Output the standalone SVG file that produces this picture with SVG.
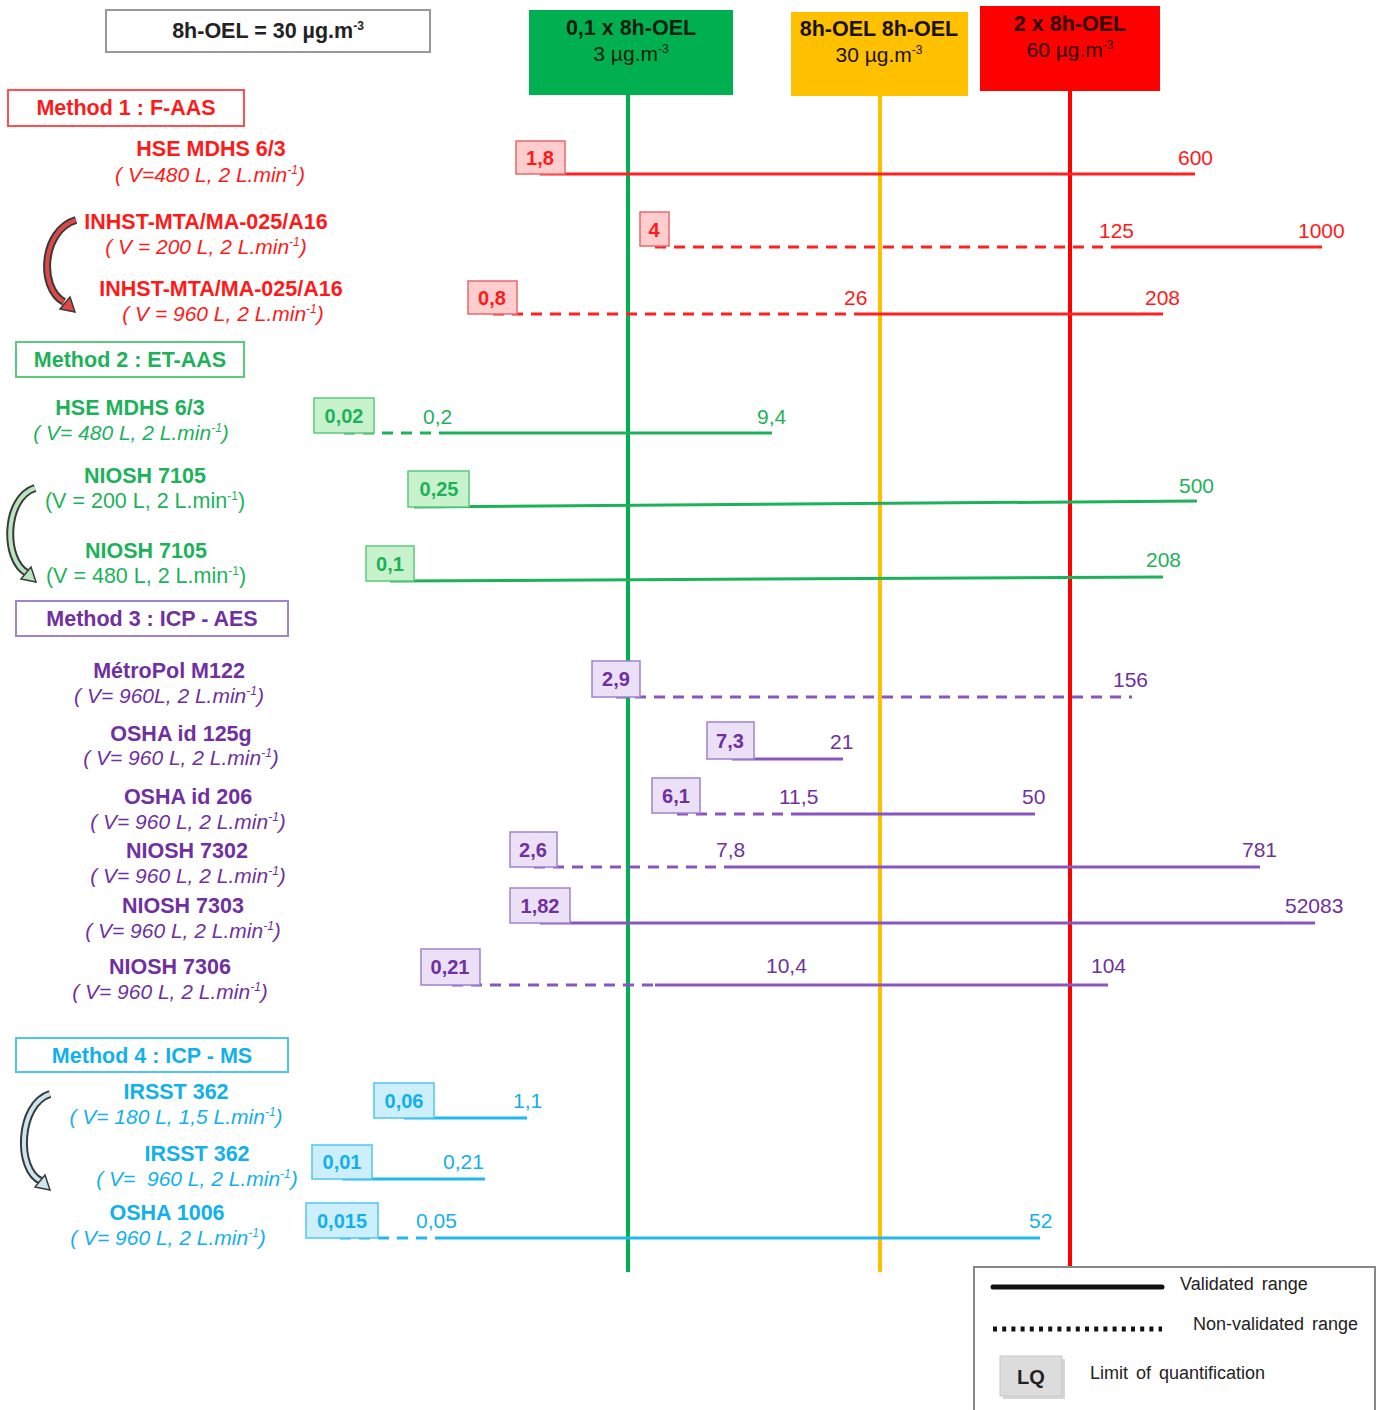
<svg xmlns="http://www.w3.org/2000/svg" width="1380" height="1410" viewBox="0 0 1380 1410">
<style>
text{font-family:"Liberation Sans",Arial,sans-serif}
.t{font-size:21.5px;font-weight:bold;text-anchor:middle}
.s{font-size:21px;font-style:italic;text-anchor:middle}
.sn{font-size:21.5px;text-anchor:middle}
.n{font-size:21px}
.lq{font-size:20px;font-weight:bold;text-anchor:middle}
.r{fill:#FF1a1a}.g{fill:#1DB25A}.p{fill:#7030A0}.c{fill:#12B0EC}
.lr{stroke:#FF2020;stroke-width:3;fill:none}
.lg{stroke:#1DB25A;stroke-width:3;fill:none}
.lp{stroke:#8A55BE;stroke-width:3;fill:none}
.lc{stroke:#22B8EE;stroke-width:3;fill:none}
.d{stroke-dasharray:11 8}
.br{fill:#FFCDCD;stroke:#E86A6A;stroke-width:1.5}
.bg{fill:#C8F2CC;stroke:#5ACB7C;stroke-width:1.5}
.bp{fill:#EBE0F6;stroke:#A183CC;stroke-width:1.5}
.bc{fill:#CDEFFB;stroke:#4FC6F0;stroke-width:1.5}
.h{font-size:21px;text-anchor:middle}
.leg{font-size:18px;fill:#222;word-spacing:3px}
</style>
<rect width="1380" height="1410" fill="#fff"/>

<!-- header -->
<g id="oel">
<rect x="106" y="10" width="324" height="42" fill="#fff" stroke="#999" stroke-width="2"/>
<text x="268" y="38" class="t" font-size="20.5" fill="#222">8h-OEL = 30 µg.m<tspan font-size="12" dy="-8">-3</tspan></text>
</g>

<!-- vertical reference lines -->
<g id="reflines">
<line x1="628" y1="95" x2="628" y2="1272" stroke="#00B050" stroke-width="4"/>
<line x1="880" y1="96" x2="880" y2="1272" stroke="#FFC000" stroke-width="4"/>
<line x1="1070" y1="91" x2="1070" y2="1266" stroke="#FF0000" stroke-width="4"/>
</g>

<g id="hdr-green">
<rect x="529" y="10" width="204" height="85" fill="#00B050"/>
<text x="631" y="35" class="t" fill="#0d1f0d">0,1 x 8h-OEL</text>
<text x="631" y="61" class="h" fill="#0d1f0d">3 µg.m<tspan font-size="12" dy="-8">-3</tspan></text>
</g>
<g id="hdr-yellow">
<rect x="791" y="12" width="177" height="84" fill="#FFC000"/>
<text x="879" y="36" class="t" fill="#1a1200">8h-OEL 8h-OEL</text>
<text x="879" y="62" class="h" fill="#1a1200">30 µg.m<tspan font-size="12" dy="-8">-3</tspan></text>
</g>
<g id="hdr-red">
<rect x="980" y="6" width="180" height="85" fill="#FF0000"/>
<text x="1070" y="31" class="t" fill="#2a0000">2 x 8h-OEL</text>
<text x="1070" y="57" class="h" fill="#2a0000">60 µg.m<tspan font-size="12" dy="-8">-3</tspan></text>
</g>

<!-- method boxes -->
<g id="method1"><rect x="8" y="90" width="236" height="36" fill="#fff" stroke="#FF5050" stroke-width="2"/><text x="126" y="115" class="t r">Method 1 : F-AAS</text></g>
<g id="method2"><rect x="16" y="342" width="228" height="35" fill="#fff" stroke="#5ACB7C" stroke-width="2"/><text x="130" y="367" class="t g">Method 2 : ET-AAS</text></g>
<g id="method3"><rect x="16" y="601" width="272" height="35" fill="#fff" stroke="#A183CC" stroke-width="2"/><text x="152" y="626" class="t p">Method 3 : ICP - AES</text></g>
<g id="method4"><rect x="16" y="1038" width="272" height="34" fill="#fff" stroke="#4FC6F0" stroke-width="2"/><text x="152" y="1063" class="t c">Method 4 : ICP - MS</text></g>

<!-- curved arrows -->
<g id="arrows">
<path d="M76 220 C42 230 38 288 64 302" fill="none" stroke="#3a3a3a" stroke-width="8"/>
<path d="M76 220 C42 230 38 288 64 302" fill="none" stroke="#E04848" stroke-width="4"/>
<polygon points="75,312 60,309 70,297" fill="#E04848" stroke="#3a3a3a" stroke-width="1.5"/>
<path d="M35 488 C4 498 3 560 27 573" fill="none" stroke="#3a3a3a" stroke-width="8"/>
<path d="M35 488 C4 498 3 560 27 573" fill="none" stroke="#B9E5BE" stroke-width="4"/>
<polygon points="36,582 21,579 31,567" fill="#B9E5BE" stroke="#3a3a3a" stroke-width="1.5"/>
<path d="M50 1094 C18 1104 16 1170 41 1181" fill="none" stroke="#3a3a3a" stroke-width="8"/>
<path d="M50 1094 C18 1104 16 1170 41 1181" fill="none" stroke="#CBE6EE" stroke-width="4"/>
<polygon points="50,1190 35,1187 45,1175" fill="#CBE6EE" stroke="#3a3a3a" stroke-width="1.5"/>
</g>

<!-- connectors: ranges -->
<g id="connectors">
<line x1="540" y1="174" x2="1195" y2="174" class="lr"/>
<line x1="655" y1="247" x2="1117" y2="247" class="lr d"/>
<line x1="1117" y1="247" x2="1322" y2="247" class="lr"/>
<line x1="493" y1="314" x2="855" y2="314" class="lr d"/>
<line x1="855" y1="314" x2="1163" y2="314" class="lr"/>

<line x1="344" y1="433" x2="440" y2="433" class="lg d"/>
<line x1="440" y1="433" x2="772" y2="433" class="lg"/>
<line x1="414" y1="507" x2="1197" y2="501" class="lg"/>
<line x1="390" y1="581" x2="1163" y2="577" class="lg"/>

<line x1="616" y1="697" x2="1132" y2="697" class="lp d"/>
<line x1="732" y1="759" x2="843" y2="759" class="lp"/>
<line x1="677" y1="814" x2="800" y2="814" class="lp d"/>
<line x1="800" y1="814" x2="1035" y2="814" class="lp"/>
<line x1="534" y1="867" x2="732" y2="867" class="lp d"/>
<line x1="732" y1="867" x2="1260" y2="867" class="lp"/>
<line x1="540" y1="923" x2="1315" y2="923" class="lp"/>
<line x1="452" y1="985" x2="655" y2="985" class="lp d"/>
<line x1="655" y1="985" x2="1108" y2="985" class="lp"/>

<line x1="404" y1="1118" x2="527" y2="1118" class="lc"/>
<line x1="342" y1="1179" x2="485" y2="1179" class="lc"/>
<line x1="340" y1="1238" x2="440" y2="1238" class="lc d"/>
<line x1="440" y1="1238" x2="1040" y2="1238" class="lc"/>
</g>

<!-- Method 1 rows -->
<g id="row-hse-63-faas">
<text x="211" y="156" class="t r">HSE MDHS 6/3</text>
<text x="210" y="182" class="s r">( V=480 L, 2 L.min<tspan font-size="12" dy="-8">-1</tspan><tspan dy="8">)</tspan></text>
<rect x="516" y="141" width="49" height="33" class="br"/><text x="540" y="165" class="lq r">1,8</text>
<text x="1178" y="165" class="n r">600</text>
</g>
<g id="row-inhst-200">
<text x="206" y="229" class="t r">INHST-MTA/MA-025/A16</text>
<text x="206" y="254" class="s r">( V = 200 L, 2 L.min<tspan font-size="12" dy="-8">-1</tspan><tspan dy="8">)</tspan></text>
<rect x="640" y="212" width="29" height="34" class="br"/><text x="654" y="237" class="lq r">4</text>
<text x="1099" y="238" class="n r">125</text>
<text x="1298" y="238" class="n r">1000</text>
</g>
<g id="row-inhst-960">
<text x="221" y="296" class="t r">INHST-MTA/MA-025/A16</text>
<text x="223" y="321" class="s r">( V = 960 L, 2 L.min<tspan font-size="12" dy="-8">-1</tspan><tspan dy="8">)</tspan></text>
<rect x="468" y="281" width="49" height="33" class="br"/><text x="492" y="305" class="lq r">0,8</text>
<text x="844" y="305" class="n r">26</text>
<text x="1145" y="305" class="n r">208</text>
</g>

<!-- Method 2 rows -->
<g id="row-hse-63-etaas">
<text x="130" y="415" class="t g">HSE MDHS 6/3</text>
<text x="131" y="440" class="s g">( V= 480 L, 2 L.min<tspan font-size="12" dy="-8">-1</tspan><tspan dy="8">)</tspan></text>
<rect x="314" y="398" width="60" height="35" class="bg"/><text x="344" y="423" class="lq g">0,02</text>
<text x="423" y="424" class="n g">0,2</text>
<text x="757" y="424" class="n g">9,4</text>
</g>
<g id="row-niosh7105-200">
<text x="145" y="483" class="t g">NIOSH 7105</text>
<text x="145" y="508" class="sn g">(V = 200 L, 2 L.min<tspan font-size="12" dy="-8">-1</tspan><tspan dy="8">)</tspan></text>
<rect x="408" y="471" width="61" height="36" class="bg"/><text x="439" y="496" class="lq g">0,25</text>
<text x="1179" y="493" class="n g">500</text>
</g>
<g id="row-niosh7105-480">
<text x="146" y="558" class="t g">NIOSH 7105</text>
<text x="146" y="583" class="sn g">(V = 480 L, 2 L.min<tspan font-size="12" dy="-8">-1</tspan><tspan dy="8">)</tspan></text>
<rect x="366" y="546" width="48" height="35" class="bg"/><text x="390" y="571" class="lq g">0,1</text>
<text x="1146" y="567" class="n g">208</text>
</g>

<!-- Method 3 rows -->
<g id="row-m122">
<text x="169" y="678" class="t p">MétroPol M122</text>
<text x="169" y="703" class="s p">( V= 960L, 2 L.min<tspan font-size="12" dy="-8">-1</tspan><tspan dy="8">)</tspan></text>
<rect x="592" y="661" width="48" height="36" class="bp"/><text x="616" y="686" class="lq p">2,9</text>
<text x="1113" y="687" class="n p">156</text>
</g>
<g id="row-osha125g">
<text x="181" y="741" class="t p">OSHA id 125g</text>
<text x="181" y="765" class="s p">( V= 960 L, 2 L.min<tspan font-size="12" dy="-8">-1</tspan><tspan dy="8">)</tspan></text>
<rect x="707" y="722" width="47" height="37" class="bp"/><text x="730" y="748" class="lq p">7,3</text>
<text x="830" y="749" class="n p">21</text>
</g>
<g id="row-osha206">
<text x="188" y="804" class="t p">OSHA id 206</text>
<text x="188" y="829" class="s p">( V= 960 L, 2 L.min<tspan font-size="12" dy="-8">-1</tspan><tspan dy="8">)</tspan></text>
<rect x="652" y="778" width="48" height="35" class="bp"/><text x="676" y="803" class="lq p">6,1</text>
<text x="779" y="804" class="n p">11,5</text>
<text x="1022" y="804" class="n p">50</text>
</g>
<g id="row-niosh7302">
<text x="187" y="858" class="t p">NIOSH 7302</text>
<text x="188" y="883" class="s p">( V= 960 L, 2 L.min<tspan font-size="12" dy="-8">-1</tspan><tspan dy="8">)</tspan></text>
<rect x="510" y="832" width="47" height="35" class="bp"/><text x="533" y="857" class="lq p">2,6</text>
<text x="716" y="857" class="n p">7,8</text>
<text x="1242" y="857" class="n p">781</text>
</g>
<g id="row-niosh7303">
<text x="183" y="913" class="t p">NIOSH 7303</text>
<text x="183" y="938" class="s p">( V= 960 L, 2 L.min<tspan font-size="12" dy="-8">-1</tspan><tspan dy="8">)</tspan></text>
<rect x="510" y="888" width="60" height="35" class="bp"/><text x="540" y="913" class="lq p">1,82</text>
<text x="1285" y="913" class="n p">52083</text>
</g>
<g id="row-niosh7306">
<text x="170" y="974" class="t p">NIOSH 7306</text>
<text x="170" y="999" class="s p">( V= 960 L, 2 L.min<tspan font-size="12" dy="-8">-1</tspan><tspan dy="8">)</tspan></text>
<rect x="421" y="949" width="59" height="36" class="bp"/><text x="450" y="974" class="lq p">0,21</text>
<text x="766" y="973" class="n p">10,4</text>
<text x="1091" y="973" class="n p">104</text>
</g>

<!-- Method 4 rows -->
<g id="row-irsst362-180">
<text x="176" y="1099" class="t c">IRSST 362</text>
<text x="176" y="1124" class="s c">( V= 180 L, 1,5 L.min<tspan font-size="12" dy="-8">-1</tspan><tspan dy="8">)</tspan></text>
<rect x="374" y="1083" width="60" height="35" class="bc"/><text x="404" y="1108" class="lq c">0,06</text>
<text x="513" y="1108" class="n c">1,1</text>
</g>
<g id="row-irsst362-960">
<text x="197" y="1161" class="t c">IRSST 362</text>
<text x="197" y="1186" class="s c" xml:space="preserve">( V=  960 L, 2 L.min<tspan font-size="12" dy="-8">-1</tspan><tspan dy="8">)</tspan></text>
<rect x="312" y="1145" width="60" height="34" class="bc"/><text x="342" y="1169" class="lq c">0,01</text>
<text x="443" y="1169" class="n c">0,21</text>
</g>
<g id="row-osha1006">
<text x="167" y="1220" class="t c">OSHA 1006</text>
<text x="168" y="1245" class="s c">( V= 960 L, 2 L.min<tspan font-size="12" dy="-8">-1</tspan><tspan dy="8">)</tspan></text>
<rect x="306" y="1203" width="72" height="35" class="bc"/><text x="342" y="1228" class="lq c">0,015</text>
<text x="416" y="1228" class="n c">0,05</text>
<text x="1029" y="1228" class="n c">52</text>
</g>

<!-- legend -->
<g id="legend">
<rect x="974" y="1267" width="401" height="150" fill="#fff" stroke="#888" stroke-width="2"/>
<line x1="993" y1="1287" x2="1162" y2="1287" stroke="#111" stroke-width="5" stroke-linecap="round"/>
<text x="1180" y="1290" class="leg">Validated range</text>
<line x1="993" y1="1329" x2="1162" y2="1329" stroke="#111" stroke-width="5" stroke-dasharray="4 5.2"/>
<text x="1193" y="1330" class="leg">Non-validated range</text>
<rect x="1003" y="1359" width="62" height="40" fill="#bbb" opacity="0.6"/>
<rect x="1000" y="1356" width="62" height="40" fill="#DCDCDC" stroke="#c8c8c8"/>
<text x="1031" y="1384" class="lq" fill="#222">LQ</text>
<text x="1090" y="1379" class="leg">Limit of quantification</text>
</g>
</svg>
